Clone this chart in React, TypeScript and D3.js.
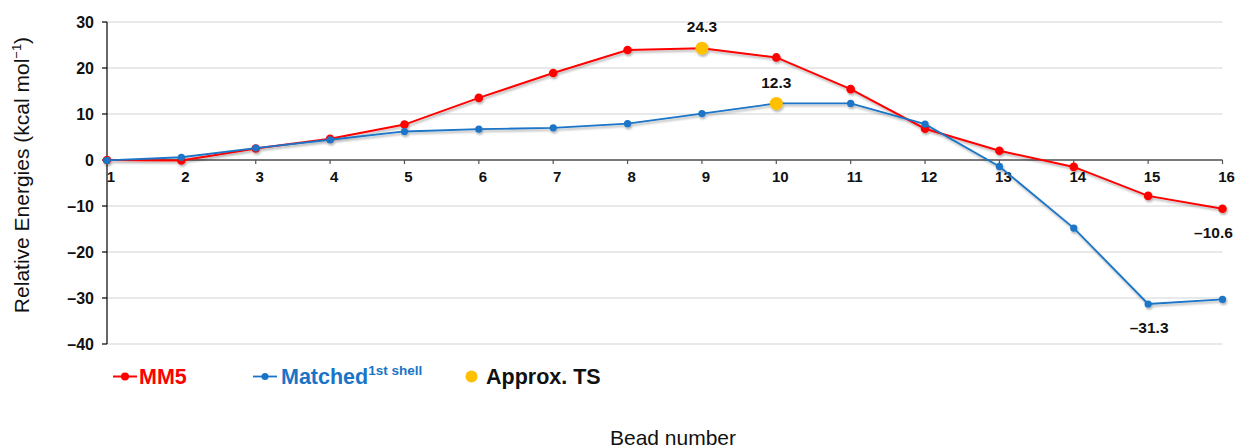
import React from "react";
import * as d3 from "d3";

const beads = [1, 2, 3, 4, 5, 6, 7, 8, 9, 10, 11, 12, 13, 14, 15, 16];
const mm5 = [0, -0.1, 2.5, 4.6, 7.7, 13.5, 18.9, 23.9, 24.3, 22.3, 15.4, 6.8, 2.0, -1.5, -7.8, -10.6];
const matched = [-0.1, 0.6, 2.6, 4.4, 6.2, 6.7, 7.0, 7.9, 10.1, 12.3, 12.3, 7.8, -1.4, -14.8, -31.3, -30.3];
const yTicks = [30, 20, 10, 0, -10, -20, -30, -40];
const tsPoints = [
  { bead: 9, value: 24.3, label: "24.3", dx: 0, dy: -22 },
  { bead: 10, value: 12.3, label: "12.3", dx: 0, dy: -21 },
];
const endLabels = [
  { bead: 16, value: -10.6, label: "–10.6", dx: -9, dy: 24 },
  { bead: 15, value: -31.3, label: "–31.3", dx: 1, dy: 24 },
];

const RED = "#ff0000";
const BLUE = "#1a74c6";
const GOLD = "#ffc000";
const FONT = "Liberation Sans, Arial, sans-serif";

const fmt = (v: number) => (v < 0 ? "–" + Math.abs(v) : String(v));

export default function App() {
  const W = 1238, H = 448;
  const x = d3.scaleLinear().domain([1, 16]).range([107, 1222.5]);
  const y = d3.scaleLinear().domain([-40, 30]).range([344, 22]);
  const line = d3
    .line<number>()
    .x((_, i) => x(beads[i]))
    .y((d) => y(d));

  return (
    <svg
      width={W}
      height={H}
      style={{ position: "absolute", left: 0, top: 0, background: "#fff" }}
      fontFamily={FONT}
    >
      <defs>
        <filter id="sh" x="-5%" y="-5%" width="110%" height="120%">
          <feDropShadow dx="1" dy="2" stdDeviation="1.2" floodColor="#000" floodOpacity="0.3" />
        </filter>
      </defs>
      {/* gridlines */}
      {yTicks.map((t) => (
        <line key={"g" + t} x1={x(1)} x2={x(16)} y1={y(t)} y2={y(t)} stroke="#e2e2e2" strokeWidth={1.3} />
      ))}
      {/* y axis */}
      <line x1={x(1)} x2={x(1)} y1={y(30)} y2={y(-40)} stroke="#000" strokeWidth={1.2} />
      {yTicks.map((t) => (
        <g key={"yt" + t}>
          <line x1={x(1) - 5} x2={x(1)} y1={y(t)} y2={y(t)} stroke="#000" strokeWidth={1.2} />
          <text x={x(1) - 13} y={y(t)} dy="0.35em" textAnchor="end" fontSize={16} fontWeight="bold" fill="#111">
            {fmt(t)}
          </text>
        </g>
      ))}
      {/* x axis at 0 */}
      <line x1={x(1)} x2={x(16)} y1={y(0)} y2={y(0)} stroke="#555" strokeWidth={1.5} />
      {beads.map((b) => (
        <g key={"xt" + b}>
          <line x1={x(b)} x2={x(b)} y1={y(0)} y2={y(0) + 4} stroke="#555" strokeWidth={1.2} />
          <text x={x(b) + 4} y={y(0) + 17} dy="0.35em" textAnchor="middle" fontSize={15} fontWeight="bold" fill="#111">
            {b}
          </text>
        </g>
      ))}
      {/* series */}
      <g filter="url(#sh)">
        <path d={line(mm5) || ""} fill="none" stroke={RED} strokeWidth={2} />
        {mm5.map((v, i) => (
          <circle key={"r" + i} cx={x(beads[i])} cy={y(v)} r={4.3} fill={RED} />
        ))}
        <path d={line(matched) || ""} fill="none" stroke={BLUE} strokeWidth={1.8} />
        {matched.map((v, i) => (
          <circle key={"b" + i} cx={x(beads[i])} cy={y(v)} r={3.6} fill={BLUE} />
        ))}
        {tsPoints.map((p) => (
          <circle key={"ts" + p.bead} cx={x(p.bead)} cy={y(p.value)} r={6.5} fill={GOLD} />
        ))}
      </g>
      {/* labels */}
      {tsPoints.concat(endLabels).map((p) => (
        <text
          key={"l" + p.label}
          x={x(p.bead) + p.dx}
          y={y(p.value) + p.dy}
          dy="0.35em"
          textAnchor="middle"
          fontSize={15.5}
          fontWeight="bold"
          fill="#111"
        >
          {p.label}
        </text>
      ))}
      {/* y axis title */}
      <text
        transform={`translate(22,${(y(30) + y(-40)) / 2 - 8}) rotate(-90)`}
        textAnchor="middle"
        dy="0.35em"
        fontSize={21}
        fill="#111"
      >
        Relative Energies (kcal mol<tspan dy="-8" fontSize={13}>−1</tspan>
        <tspan dy="8">)</tspan>
      </text>
      {/* x axis title */}
      <text x={673} y={438} dy="0.35em" textAnchor="middle" fontSize={21} fill="#111">
        Bead number
      </text>
      {/* legend */}
      <g>
        <line x1={113} x2={137} y1={376.5} y2={376.5} stroke={RED} strokeWidth={2} />
        <circle cx={125} cy={376.5} r={4} fill={RED} />
        <text x={139} y={376.5} dy="0.35em" fontSize={21.5} fontWeight="bold" fill={RED}>
          MM5
        </text>
        <line x1={253} x2={277} y1={376.5} y2={376.5} stroke={BLUE} strokeWidth={1.8} />
        <circle cx={265} cy={376.5} r={3.5} fill={BLUE} />
        <text x={281} y={376.5} dy="0.35em" fontSize={21.5} fontWeight="bold" fill={BLUE}>
          Matched
          <tspan dy="-9" fontSize={13.5}>1st shell</tspan>
        </text>
        <circle cx={471.5} cy={376.5} r={6} fill={GOLD} />
        <text x={486} y={376.5} dy="0.35em" fontSize={21.5} fontWeight="bold" fill="#111">
          Approx. TS
        </text>
      </g>
    </svg>
  );
}
